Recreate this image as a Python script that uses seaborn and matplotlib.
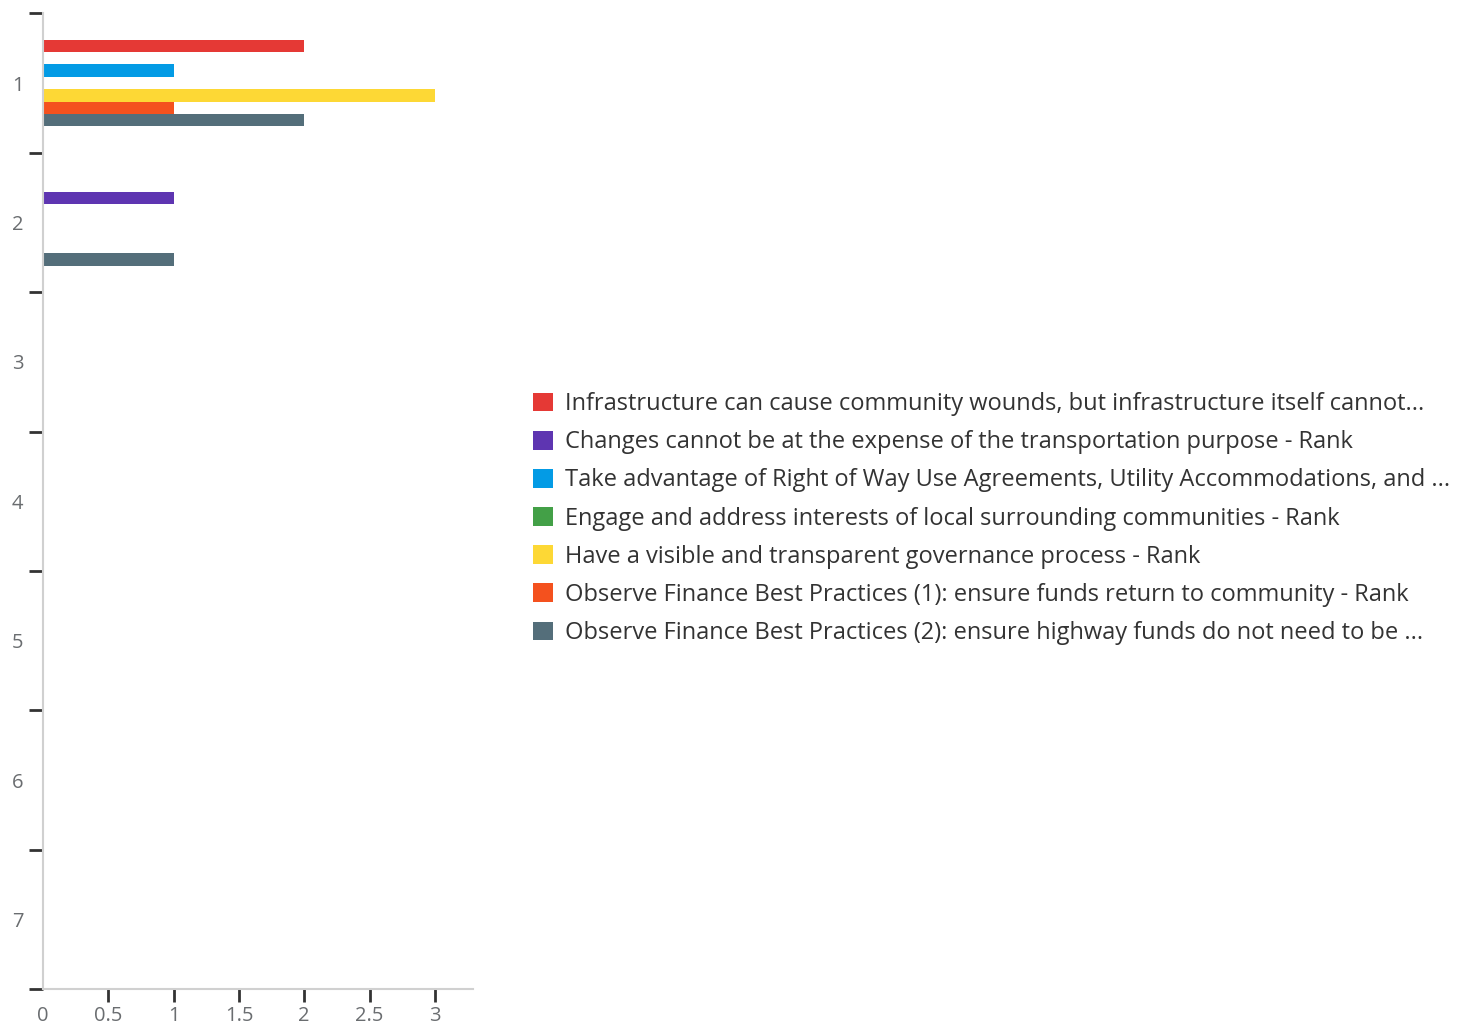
import matplotlib
matplotlib.use("Agg")
import matplotlib.pyplot as plt
import seaborn as sns
import pandas as pd

# Rank categories shown on the vertical axis
ranks = ["1", "2", "3", "4", "5", "6", "7"]

# Legend labels for each statement
series_names = [
    "Infrastructure can cause community wounds, but infrastructure itself cannot...",
    "Changes cannot be at the expense of the transportation purpose - Rank",
    "Take advantage of Right of Way Use Agreements, Utility Accommodations, and ...",
    "Engage and address interests of local surrounding communities - Rank",
    "Have a visible and transparent governance process - Rank",
    "Observe Finance Best Practices (1): ensure funds return to community - Rank",
    "Observe Finance Best Practices (2): ensure highway funds do not need to be ...",
]

# Response counts per rank for each statement
infrastructure_wounds = [2, 0, 0, 0, 0, 0, 0]
transportation_purpose = [0, 1, 0, 0, 0, 0, 0]
right_of_way = [1, 0, 0, 0, 0, 0, 0]
local_communities = [0, 0, 0, 0, 0, 0, 0]
governance_process = [3, 0, 0, 0, 0, 0, 0]
finance_practices_1 = [1, 0, 0, 0, 0, 0, 0]
finance_practices_2 = [2, 1, 0, 0, 0, 0, 0]

series_values = [
    infrastructure_wounds,
    transportation_purpose,
    right_of_way,
    local_communities,
    governance_process,
    finance_practices_1,
    finance_practices_2,
]

colors = ["#E53935", "#5E35B1", "#039BE5", "#43A047", "#FDD835", "#F4511E", "#546E7A"]

x_ticks = [0, 0.5, 1, 1.5, 2, 2.5, 3]
x_tick_labels = ["0", "0.5", "1", "1.5", "2", "2.5", "3"]

rows = []
for name, vals in zip(series_names, series_values):
    for r, v in zip(ranks, vals):
        rows.append({"Rank": r, "Count": v, "Statement": name})
df = pd.DataFrame(rows)

sns.set_style("white")
plt.rcParams["font.family"] = ["Open Sans", "DejaVu Sans"]

fig = plt.figure(figsize=(14.82, 10.24), dpi=100)
ax = fig.add_axes([0.029, 0.034, 0.290, 0.953])

sns.barplot(
    data=df, x="Count", y="Rank", hue="Statement",
    order=ranks, hue_order=series_names, palette=colors,
    orient="h", width=0.62, saturation=1, linewidth=0,
    errorbar=None, ax=ax, legend=True,
)

handles, labels = ax.get_legend_handles_labels()
ax.get_legend().remove()

ax.set_xlim(0, 3.29)
ax.set_ylim(len(ranks) - 0.5, -0.5)
ax.set_xlabel("")
ax.set_ylabel("")

for side in ["top", "right"]:
    ax.spines[side].set_visible(False)
for side in ["left", "bottom"]:
    ax.spines[side].set_color("#d0d0d0")
    ax.spines[side].set_linewidth(1.5)

# x axis: labels at every half unit, short dark ticks except at zero
ax.set_xticks(x_ticks)
ax.set_xticklabels(x_tick_labels)
ax.tick_params(axis="x", which="major", length=9, width=2, color="#333333",
               labelsize=14.5, labelcolor="#6a6d70", pad=3, direction="out", bottom=True)
ax.xaxis.get_major_ticks()[0].tick1line.set_visible(False)

# y axis: labels centred on categories, tick marks at category boundaries
ax.set_yticks(range(len(ranks)))
ax.set_yticklabels(ranks)
ax.set_yticks([i - 0.5 for i in range(len(ranks) + 1)], minor=True)
ax.tick_params(axis="y", which="major", length=0, labelsize=14.5,
               labelcolor="#6a6d70", pad=14)
ax.tick_params(axis="y", which="minor", length=10, width=2, color="#333333",
               direction="out", left=True)

fig.legend(
    handles, labels, loc="center left", bbox_to_anchor=(0.3455, 0.4935),
    frameon=False, fontsize=17, handlelength=0.85, handleheight=0.85,
    handletextpad=0.5, labelspacing=0.6, labelcolor="#333333",
)

fig.savefig("out.png", dpi=100, facecolor="white")
